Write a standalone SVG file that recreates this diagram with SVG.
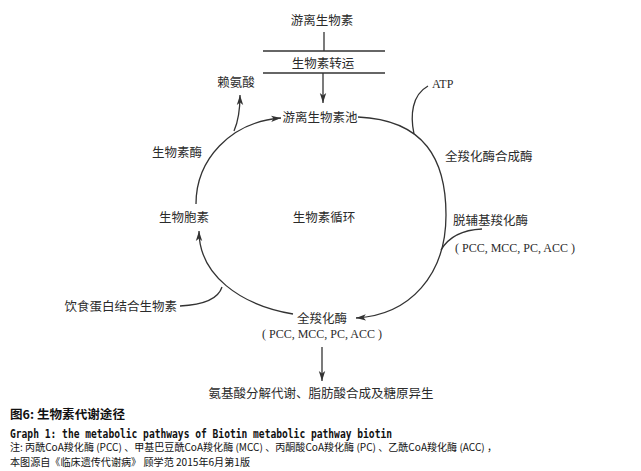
<svg xmlns="http://www.w3.org/2000/svg" width="641" height="471" viewBox="0 0 641 471">
<style>
.t{font-family:"Noto Sans CJK SC","Noto Sans",sans-serif;font-size:12.5px;fill:#2b2b2b}
.l{font-family:"Liberation Serif","Noto Sans CJK SC",serif;font-size:12px;fill:#2b2b2b}
.c{font-family:"Noto Sans CJK SC","Noto Sans",sans-serif;fill:#111}
.m{font-family:"DejaVu Sans Mono","Liberation Mono",monospace;font-weight:bold;font-size:12.5px;fill:#111}
.ln{fill:none;stroke:#333;stroke-width:1.3}
</style>
<defs>
<marker id="ah" markerUnits="userSpaceOnUse" markerWidth="12" markerHeight="8" refX="10" refY="4" orient="auto">
<path d="M0,0.8 L10,4 L0,7.2 L2.5,4 Z" fill="#333"/>
</marker>
</defs>
<g id="connectors">
<line class="ln" x1="324" y1="32" x2="324" y2="51"/>
<line class="ln" x1="263" y1="51" x2="385" y2="51"/>
<line class="ln" x1="263" y1="73" x2="385" y2="73"/>
<line class="ln" x1="323" y1="73" x2="323" y2="103" marker-end="url(#ah)"/>
<path class="ln" d="M196,204 C196,160 230,122 281,118" marker-end="url(#ah)"/>
<path class="ln" d="M234,131 C238,122 240,110 240,95" marker-end="url(#ah)"/>
<path class="ln" d="M293,314 C240,305 199,275 199,231" marker-end="url(#ah)"/>
<path class="ln" d="M180,306 C200,305 218,300 222,287"/>
<path class="ln" d="M358,117 C425,120 446,160 446,215 C446,275 410,315 356,318" marker-end="url(#ah)"/>
<path class="ln" d="M414,134 C410,115 412,95 428,86"/>
<path class="ln" d="M441,250 C448,238 460,230 482,229"/>
<line class="ln" x1="322" y1="347" x2="322" y2="381" marker-end="url(#ah)"/>
</g>
<g id="free-biotin"><text class="t" x="322" y="24.5" text-anchor="middle">游离生物素</text></g>
<g id="transport"><text class="t" x="323" y="67.5" text-anchor="middle">生物素转运</text></g>
<g id="pool"><text class="t" x="320" y="121.5" text-anchor="middle">游离生物素池</text></g>
<g id="lysine"><text class="t" x="236" y="86.5" text-anchor="middle">赖氨酸</text></g>
<g id="biotinidase"><text class="t" x="177" y="156.5" text-anchor="middle">生物素酶</text></g>
<g id="biocytin"><text class="t" x="184" y="221.5" text-anchor="middle">生物胞素</text></g>
<g id="cycle"><text class="t" x="324" y="221.5" text-anchor="middle">生物素循环</text></g>
<g id="atp"><text class="l" x="432" y="88">ATP</text></g>
<g id="hcs"><text class="t" x="445" y="160.5">全羧化酶合成酶</text></g>
<g id="apo"><text class="t" x="453" y="224.5">脱辅基羧化酶</text><text class="l" x="455" y="251.5">( PCC, MCC, PC, ACC )</text></g>
<g id="holo"><text class="t" x="322" y="322.5" text-anchor="middle">全羧化酶</text><text class="l" x="322" y="337.5" text-anchor="middle">( PCC, MCC, PC, ACC )</text></g>
<g id="diet"><text class="t" x="177" y="311" text-anchor="end">饮食蛋白结合生物素</text></g>
<g id="output"><text class="t" x="321" y="397.5" text-anchor="middle">氨基酸分解代谢、脂肪酸合成及糖原异生</text></g>
<g id="caption">
<text class="c" x="10" y="419" font-size="12" font-weight="bold" textLength="115" lengthAdjust="spacingAndGlyphs">图6: 生物素代谢途径</text>
<text class="m" x="10" y="437.5" textLength="382" lengthAdjust="spacingAndGlyphs">Graph 1: the metabolic pathways of Biotin metabolic pathway biotin</text>
<text class="c" x="10" y="451" font-size="10" textLength="487" lengthAdjust="spacingAndGlyphs">注: 丙酰CoA羧化酶 (PCC) 、甲基巴豆酰CoA羧化酶 (MCC) 、丙酮酸CoA羧化酶 (PC) 、乙酰CoA羧化酶 (ACC) ，</text>
<text class="c" x="10" y="466" font-size="10" textLength="240" lengthAdjust="spacingAndGlyphs">本图源自《临床遗传代谢病》 顾学范 2015年6月第1版</text>
</g>
</svg>
